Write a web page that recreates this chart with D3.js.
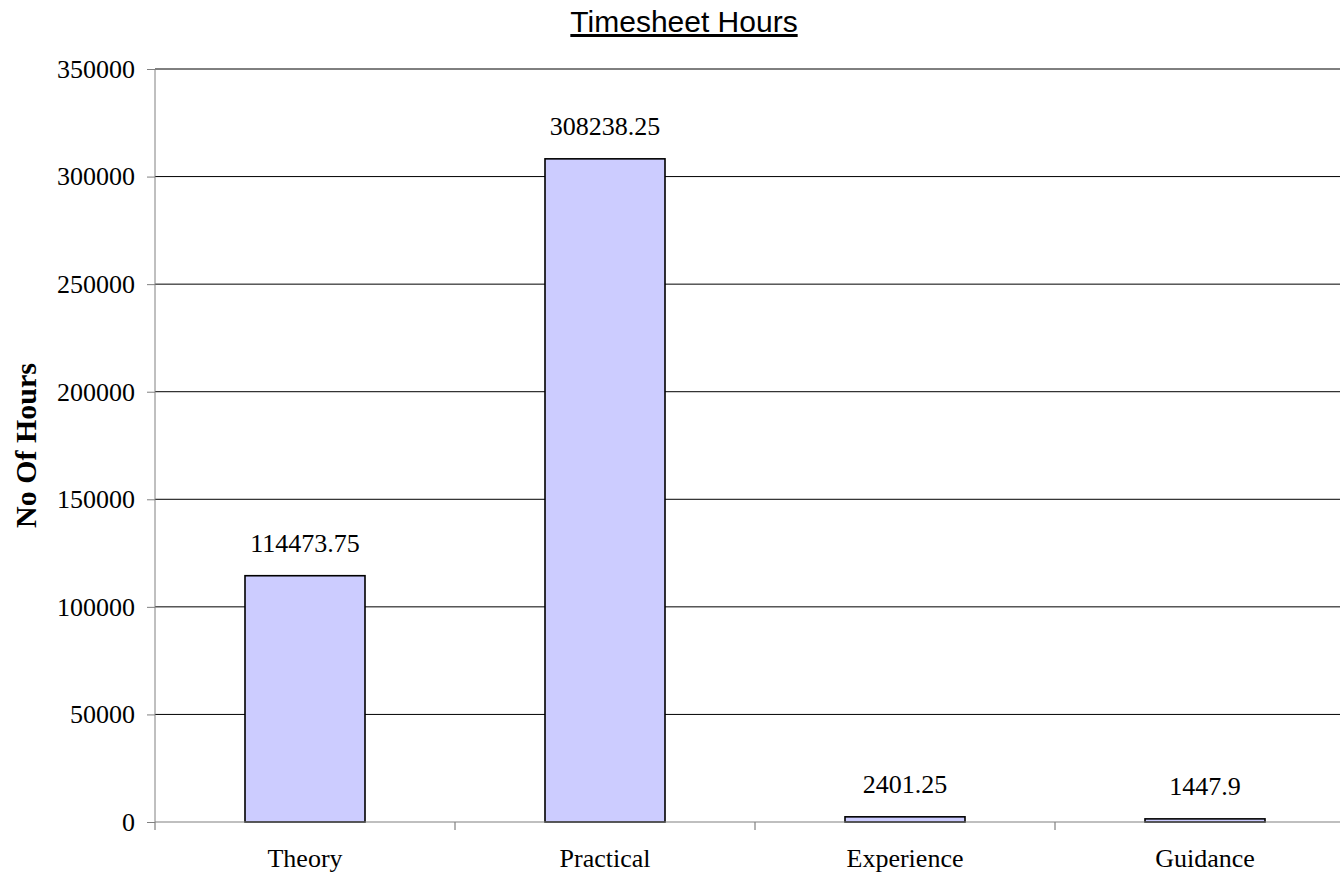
<!DOCTYPE html>
<html>
<head>
<meta charset="utf-8">
<script src="https://cdn.jsdelivr.net/npm/d3@7"></script>
<style>
  body { margin: 0; background: #fff; }
  svg { display: block; }
</style>
</head>
<body>
<div id="chart"></div>
<script>
// data
var categories = ["Theory", "Practical", "Experience", "Guidance"];
var hours = [114473.75, 308238.25, 2401.25, 1447.9];
var valueLabels = ["114473.75", "308238.25", "2401.25", "1447.9"];
var yTicks = [0, 50000, 100000, 150000, 200000, 250000, 300000, 350000];

var width = 1340,
    height = 876,
    plotLeft = 155,
    plotRight = 1355,   // plot runs past the right edge like the original
    plotTop = 69,
    plotBottom = 822;

var serif = "'Times New Roman', 'Liberation Serif', serif";

var svg = d3.select("#chart").append("svg")
    .attr("width", width)
    .attr("height", height);

var y = d3.scaleLinear()
    .domain([0, 350000])
    .range([plotBottom, plotTop]);

// outer band = one slot per category, inner band = the bar itself
var xSlot = d3.scaleBand()
    .domain(categories)
    .range([plotLeft, plotRight])
    .padding(0);

var x = d3.scaleBand()
    .domain(categories)
    .range([plotLeft, plotRight])
    .paddingInner(0.6)
    .paddingOuter(0.3);

// gridlines
svg.append("g")
    .selectAll("line")
    .data(yTicks.filter(function(d) { return d > 0; }))
    .enter().append("line")
    .attr("x1", plotLeft)
    .attr("x2", plotRight)
    .attr("y1", function(d) { return y(d); })
    .attr("y2", function(d) { return y(d); })
    .style("stroke", "#000")
    .style("stroke-width", 1);

// y axis
var yAxis = svg.append("g")
    .attr("transform", "translate(" + plotLeft + ",0)")
    .call(d3.axisLeft(y).tickValues(yTicks).tickSize(8).tickPadding(12).tickFormat(d3.format("d")));
yAxis.select(".domain").style("stroke", "#808080").attr("d", "M0," + plotTop + "V" + plotBottom);
yAxis.selectAll(".tick line").style("stroke", "#808080");
yAxis.selectAll("text")
    .style("font-family", serif)
    .style("font-size", "26px")
    .style("fill", "#000");

// bars
svg.append("g")
    .selectAll("rect")
    .data(categories)
    .enter().append("rect")
    .attr("x", function(d) { return x(d); })
    .attr("width", x.bandwidth())
    .attr("y", function(d, i) { return y(hours[i]); })
    .attr("height", function(d, i) { return y(0) - y(hours[i]); })
    .style("fill", "#ccccff")
    .style("stroke", "#000")
    .style("stroke-width", 1.6);

// x axis line + ticks at slot boundaries
svg.append("line")
    .attr("x1", plotLeft)
    .attr("x2", plotRight)
    .attr("y1", y(0))
    .attr("y2", y(0))
    .style("stroke", "#808080")
    .style("stroke-width", 1.2);

var bounds = categories.map(function(d) { return xSlot(d); }).concat([plotRight]);
svg.append("g")
    .selectAll("line")
    .data(bounds)
    .enter().append("line")
    .attr("x1", function(d) { return d; })
    .attr("x2", function(d) { return d; })
    .attr("y1", y(0))
    .attr("y2", y(0) + 8)
    .style("stroke", "#808080")
    .style("stroke-width", 1.2);

// category labels
svg.append("g")
    .selectAll("text")
    .data(categories)
    .enter().append("text")
    .attr("x", function(d) { return xSlot(d) + xSlot.bandwidth() / 2; })
    .attr("y", y(0) + 45)
    .attr("text-anchor", "middle")
    .style("font-family", serif)
    .style("font-size", "26px")
    .text(function(d) { return d; });

// value labels
svg.append("g")
    .selectAll("text")
    .data(categories)
    .enter().append("text")
    .attr("x", function(d) { return x(d) + x.bandwidth() / 2; })
    .attr("y", function(d, i) { return y(hours[i]) - 24; })
    .attr("text-anchor", "middle")
    .style("font-family", serif)
    .style("font-size", "26px")
    .text(function(d, i) { return valueLabels[i]; });

// title
svg.append("text")
    .attr("x", 684)
    .attr("y", 32)
    .attr("text-anchor", "middle")
    .style("font-family", "Arial, 'Liberation Sans', sans-serif")
    .style("font-size", "30px")
    .style("text-decoration", "underline")
    .text("Timesheet Hours");

// y axis title
svg.append("text")
    .attr("transform", "translate(36," + ((plotTop + plotBottom) / 2) + ") rotate(-90)")
    .attr("text-anchor", "middle")
    .style("font-family", serif)
    .style("font-size", "30px")
    .style("font-weight", "bold")
    .text("No Of Hours");
</script>
</body>
</html>
